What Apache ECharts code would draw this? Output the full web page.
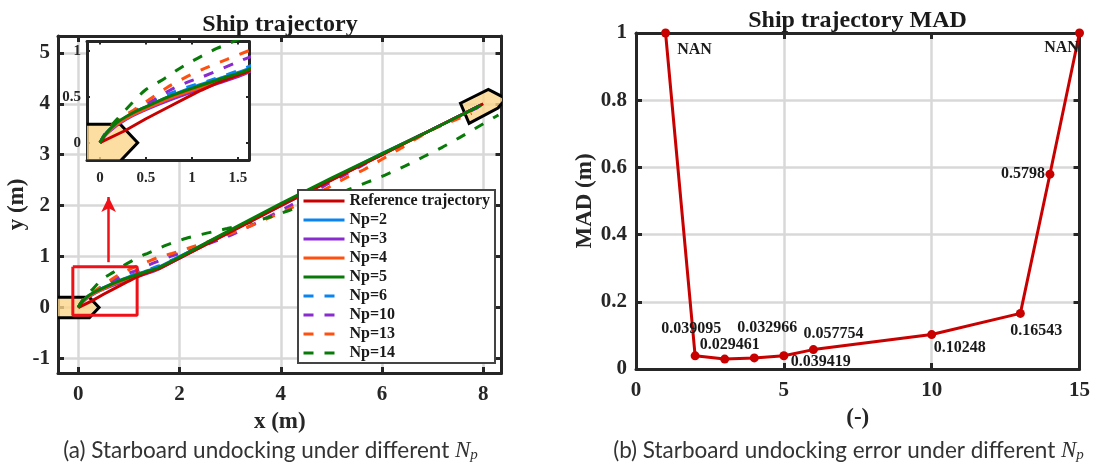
<!DOCTYPE html>
<html><head><meta charset="utf-8">
<style>html,body{margin:0;padding:0;background:#fff}#c{width:1093px;height:469px}</style>
<script src="https://cdn.jsdelivr.net/npm/echarts@6/dist/echarts.min.js"></script>
</head><body><div id="c"></div>
<script>
const refTraj=[[0,0],[.27,.13],[.5,.26],[.73,.38],[1,.52],[1.1,.57],[1.3,.66],[1.6,.77],[2,.97],[3,1.48],[4,2],[5,2.5],[6,3],[7,3.5],[8,4]];
const np2=[[0,0],[.04,.07],[.1,.14],[.2,.22],[.35,.32],[.5,.39],[.75,.5],[1,.6],[1.3,.7],[1.6,.8],[2,1],[3,1.5],[4,2.02],[5,2.52],[6,3.02],[7,3.5],[7.98,3.99]];
const np3=[[0,0],[.05,.07],[.1,.12],[.2,.2],[.35,.29],[.5,.36],[.75,.46],[1,.55],[1.3,.65],[1.6,.76],[2,.97],[3,1.49],[4,2],[5,2.51],[6,3.01],[7,3.5],[7.95,3.97]];
const np4=[[0,0],[.05,.08],[.1,.13],[.2,.21],[.35,.3],[.5,.37],[.75,.48],[1,.57],[1.3,.67],[1.6,.77],[2,.98],[3,1.5],[4,2.01],[5,2.51],[6,3],[7,3.5],[7.9,3.94]];
const np5=[[0,0],[.05,.08],[.1,.14],[.2,.23],[.35,.32],[.5,.39],[.75,.5],[1,.59],[1.3,.69],[1.6,.79],[2,.99],[3,1.52],[4,2.04],[5,2.54],[6,3.02],[7,3.5],[7.95,3.97]];
const np6=[[0,0],[.05,.09],[.1,.15],[.2,.24],[.35,.33],[.5,.42],[.75,.53],[1,.62],[1.235,.69],[1.6,.82],[2,1],[3,1.5],[4,2.02],[5,2.52],[6,3.01],[7,3.5],[7.95,3.97]];
const np10=[[0,0],[.1,.15],[.2,.24],[.36,.33],[.58,.46],[.76,.57],[.98,.67],[1.1,.71],[1.49,.875],[1.6,.92],[1.9,1.03],[2.27,1.14],[2.67,1.29],[3.04,1.43],[4.15,1.98],[4.88,2.4],[5.5,2.73],[6,3],[7,3.5],[7.9,3.93]];
const np13=[[0,0],[.1,.16],[.2,.26],[.36,.35],[.73,.6],[.93,.71],[1.12,.8],[1.38,.906],[1.62,1],[1.85,1.06],[2.25,1.19],[2.64,1.32],[3.4,1.6],[3.79,1.77],[4.19,1.945],[5.27,2.535],[5.63,2.7],[6,2.91],[6.36,3.12],[6.72,3.34],[7.08,3.53],[7.44,3.68],[7.77,3.81]];
const np14=[[0,0],[.08,.13],[.18,.25],[.31,.39],[.49,.57],[.69,.69],[.87,.81],[1.06,.917],[1.27,1.025],[1.36,1.06],[1.74,1.224],[2.12,1.355],[2.54,1.46],[2.94,1.55],[3.76,1.77],[4.15,1.9],[5.3,2.3],[5.7,2.455],[6.06,2.6],[6.45,2.775],[6.82,2.96],[7.18,3.14],[7.54,3.34],[7.9,3.55],[8.3,3.78]];
const startHull=[[-.7,.2],[.22,.2],[.41,0],[.22,-.2],[-.7,-.2]];
const endHull=[[7.55,4.01],[8.1,4.28],[8.45,4.1],[8.29,3.915],[7.72,3.615]];
const zoomBox=[[-.107,.8],[1.163,.8],[1.163,-.15],[-.107,-.15],[-.107,.8]];
const arrowFrom=[.6,.89],arrowTo=[.6,2.17];
const seriesNames=['Reference trajectory','Np=2','Np=3','Np=4','Np=5','Np=6','Np=10','Np=13','Np=14'];
const seriesData=[refTraj,np2,np3,np4,np5,np6,np10,np13,np14];
const xTicks=[0,2,4,6,8],yTicks=[-1,0,1,2,3,4,5];
const insetXTicks=[0,.5,1,1.5],insetYTicks=[0,.5,1];
const madX=[1,2,3,4,5,6,10,13,14,15];
const madY=[1,.039095,.029461,.032966,.039419,.057754,.10248,.16543,.5798,1];
const madLabels=['NAN','0.039095','0.029461','0.032966','0.039419','0.057754','0.10248','0.16543','0.5798','NAN'];
const madXTicks=[0,5,10,15],madYTicks=[0,.2,.4,.6,.8,1];

const colors=['#C80000','#0A84F0','#8A2BCF','#FF5010','#087A08','#0A84F0','#8A2BCF','#FF5010','#087A08'];
const madOffsets=[[29,17],[-4,-27],[5,-14],[13,-30],[37,6],[20,-16],[28,13],[16,17],[-27,0],[-18,15]];
const serif='"Liberation Serif","Times New Roman",serif',dark='#262626';

function axes(gi,axisKey,pos1,pos2,min,max,ticks,opt){
  const common={gridIndex:gi,type:'value',min,max,z:opt.z,
    axisLine:{show:true,onZero:false,lineStyle:{color:dark,width:opt.frame}},
    axisTick:{show:true,inside:true,length:opt.tick,customValues:ticks,lineStyle:{color:dark,width:opt.tickW}}};
  return [Object.assign({},common,{position:pos1,name:opt.name,nameLocation:'middle',nameGap:opt.nameGap,
      nameTextStyle:{fontFamily:serif,fontWeight:'bold',fontSize:23,color:dark},
      axisLabel:{customValues:ticks,margin:opt.margin,fontFamily:serif,fontWeight:'bold',fontSize:opt.font,color:dark,showMinLabel:true,showMaxLabel:true},
      splitLine:{show:opt.split!==false,lineStyle:{color:'#d8d8d8',width:2.5}}}),
    Object.assign({},common,{position:pos2,axisLabel:{show:false},splitLine:{show:false}})];
}
const xA=[...axes(0,'x','bottom','top',-.4,8.36,xTicks,{z:1,frame:3,tick:6,tickW:3,name:'x (m)',nameGap:38,margin:11,font:21}),
  ...axes(1,'x','bottom','top',-.141,1.62,insetXTicks,{z:4,frame:3,tick:3,tickW:2,margin:11,font:15,split:false}),
  ...axes(2,'x','bottom','top',0,15,madXTicks,{z:1,frame:3,tick:6,tickW:3,name:'(-)',nameGap:38,margin:11,font:21})];
const yA=[...axes(0,'y','left','right',-1.285,5.33,yTicks,{z:1,frame:3,tick:6,tickW:3,name:'y (m)',nameGap:28,margin:8,font:21}),
  ...axes(1,'y','left','right',-.188,1.1,insetYTicks,{z:4,frame:3,tick:3,tickW:2,margin:6,font:15,split:false}),
  ...axes(2,'y','left','right',0,1,madYTicks,{z:1,frame:3,tick:6,tickW:3,name:'MAD (m)',nameGap:35,margin:9,font:21})];

function hull(pts,xi,yi,z){
  return {type:'custom',coordinateSystem:'cartesian2d',xAxisIndex:xi,yAxisIndex:yi,clip:true,silent:true,z,
    data:[pts.flat()],
    renderItem(p,api){
      const out=[];
      for(let i=0;i<pts.length;i++) out.push(api.coord([api.value(2*i),api.value(2*i+1)]));
      return {type:'polygon',shape:{points:out},style:{fill:'rgba(251,214,140,.8)',stroke:'#000',lineWidth:3,lineJoin:'miter'}};
    },
    encode:{x:0,y:1}};
}
function traj(i,xi,yi,z){
  const dashed=i>=5;
  return {type:'line',name:seriesNames[i],xAxisIndex:xi,yAxisIndex:yi,data:seriesData[i],showSymbol:false,symbol:'none',
    clip:true,silent:true,smooth:i===0?false:.25,z:z+(i===4?10:0)+(i===0?9:0),color:colors[i],
    lineStyle:{color:colors[i],width:3,type:dashed?[10,11]:'solid',cap:'butt'}};
}
const series=[hull(startHull,0,0,2),hull(endHull,0,0,2),hull(startHull,2,2,5)];
seriesNames.forEach((n,i)=>series.push(traj(i,0,0,3)));
seriesNames.forEach((n,i)=>series.push(traj(i,2,2,6)));
series.push({type:'line',name:'box',xAxisIndex:0,yAxisIndex:0,data:zoomBox,symbol:'none',silent:true,z:4,
  lineStyle:{color:'#F01018',width:3},
  markLine:{silent:true,symbol:['none','arrow'],symbolSize:[11,15],label:{show:false},
    lineStyle:{color:'#F01018',width:2.5,type:'solid'},
    data:[[{coord:arrowFrom},{coord:arrowTo}]]}});
series.push({type:'line',name:'MAD',xAxisIndex:4,yAxisIndex:4,
  data:madX.map((x,i)=>({value:[x,madY[i]],label:{offset:madOffsets[i]}})),
  symbol:'circle',symbolSize:9,clip:false,silent:true,z:5,
  lineStyle:{color:'#C80000',width:3},itemStyle:{color:'#C80000'},
  label:{show:true,position:'inside',fontFamily:serif,fontWeight:'bold',fontSize:16,color:'#1a1a1a',
    formatter:p=>madLabels[p.dataIndex]}});

const capRich={i:{fontFamily:serif,fontStyle:'italic',fontSize:23,color:'#333'},s:{fontFamily:serif,fontStyle:'italic',fontSize:15,color:'#333',padding:[9,0,0,0]}};
const option={
  animation:false,backgroundColor:'#fff',
  title:[
    {text:'Ship trajectory',left:280,top:13,textAlign:'center',padding:0,textStyle:{fontFamily:serif,fontWeight:'bold',fontSize:24,color:'#1a1a1a'}},
    {text:'Ship trajectory MAD',left:857.5,top:9,textAlign:'center',padding:0,textStyle:{fontFamily:serif,fontWeight:'bold',fontSize:24,color:'#1a1a1a'}},
    {text:'(a) Starboard undocking under different {i|N}{s|p}',left:270.5,top:439,textAlign:'center',padding:0,
      textStyle:{fontFamily:'Lato',fontWeight:'normal',fontSize:22.5,color:'#333',rich:capRich}},
    {text:'(b) Starboard undocking error under different {i|N}{s|p}',left:848.5,top:439,textAlign:'center',padding:0,
      textStyle:{fontFamily:'Lato',fontWeight:'normal',fontSize:22.5,color:'#333',rich:capRich}}
  ],
  grid:[
    {left:58,top:36,width:443.5,height:337,containLabel:false},
    {left:87,top:41.5,width:162,height:118.5,show:true,backgroundColor:'#fff',borderWidth:0,z:3},
    {left:636,top:33,width:444,height:336}
  ],
  xAxis:xA,yAxis:yA,
  legend:{data:seriesNames,orient:'vertical',left:298,top:190,padding:[3,5,2,4],z:20,
    backgroundColor:'#fff',borderColor:'#444',borderWidth:2,borderRadius:0,selectedMode:false,
    itemWidth:41,itemHeight:12,itemGap:3,itemStyle:{opacity:0},lineStyle:{width:3},
    textStyle:{fontFamily:serif,fontWeight:'bold',fontSize:16,color:'#1a1a1a'}},
  series
};
const chart=echarts.init(document.getElementById('c'),null,{renderer:'canvas'});
chart.setOption(option);
</script></body></html>
